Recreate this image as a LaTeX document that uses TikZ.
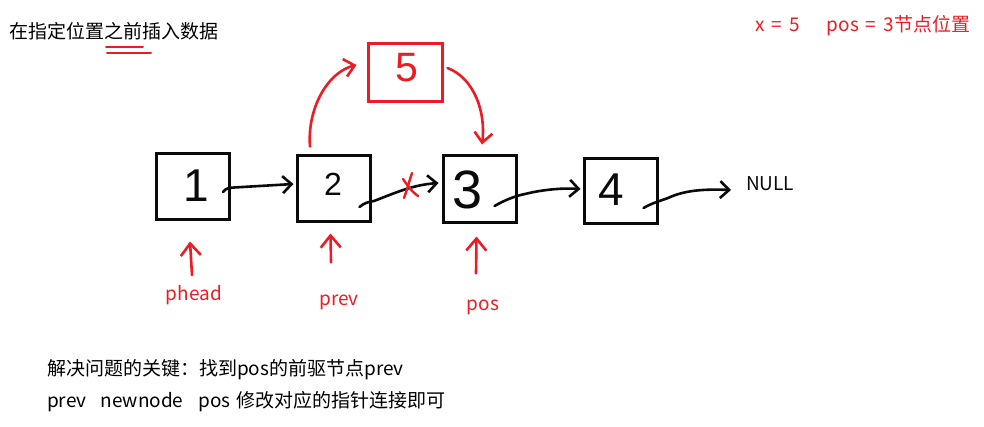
\documentclass[tikz,border=0pt]{standalone}
\usepackage{fontspec}
\setmainfont{Noto Sans CJK SC}
\newfontfamily\digitfont{Liberation Sans}
\usetikzlibrary{arrows.meta,calc}
\definecolor{pred}{RGB}{237,28,36}
\definecolor{ink}{RGB}{10,10,10}
\newcommand{\eqsp}{\hspace{7pt}=\hspace{7pt}}
\begin{document}
\begin{tikzpicture}[x=1pt,y=-1pt,
  txt/.style={inner sep=0pt,font=\fontsize{19}{23}\selectfont},
  redtxt/.style={txt,text=pred},
  box/.style={draw=ink,line width=3pt,minimum width=73pt,minimum height=66pt,inner sep=0pt},
  redbox/.style={draw=pred,line width=3pt,minimum width=74pt,minimum height=58pt,inner sep=0pt},
  digit/.style={inner sep=0pt,text=ink},
  conn/.style={draw=ink,line width=2.6pt,line cap=round,line join=round,
    -{Straight Barb[length=9pt,width=17pt]}},
  redconn/.style={draw=pred,line width=2.6pt,line cap=round,line join=round,
    -{Straight Barb[length=10pt,width=18pt]}},
  redmark/.style={draw=pred,line width=2.4pt,line cap=round}]
\useasboundingbox[fill=white] (0,0) rectangle (984,426);

% texts
\node[txt,anchor=west] (title) at (9,31) {在指定位置之前插入数据};
\node[redtxt,anchor=west] (given) at (755,26) {x\eqsp 5\hspace{27pt}pos\eqsp 3节点位置};
\node[txt,anchor=west] (key1) at (47,370) {解决问题的关键：找到pos的前驱节点prev};
\node[txt,anchor=west] (key2) at (47,402) {prev\hspace{14pt}newnode\hspace{15pt}pos\hspace{2pt} 修改对应的指针连接即可};

% underline under 之前
\draw[redmark,line width=2pt] (106,47) -- (143,47);
\draw[redmark,line width=2pt] (107,53) -- (151,53);

% boxes
\node[box] (b1) at (193,186) {};
\node[box] (b2) at (333.5,188) {};
\node[box,minimum height=67pt] (b3) at (479.5,188.5) {};
\node[box,minimum height=65pt] (b4) at (620.5,190.5) {};
\node[redbox] (b5) at (405,72) {};

% digits
\node[digit,font=\digitfont\fontsize{46}{46}\selectfont] (d1) at (196,186) {1};
\node[digit,font=\digitfont\fontsize{32}{32}\selectfont] (d2) at (333,184) {2};
\node[digit,font=\digitfont\fontsize{54}{54}\selectfont] (d3) at (468,190) {3};
\node[digit,font=\digitfont\fontsize{46}{46}\selectfont] (d4) at (611,190) {4};
\node[digit,font=\digitfont\fontsize{41}{41}\selectfont,text=pred] (d5) at (407,68) {5};

% NULL
\node[txt,anchor=west,text=ink] (null) at (746,184) {NULL};

% labels
\node[redtxt] (phead) at (194,295) {phead};
\node[redtxt] (prev) at (339,302) {prev};
\node[redtxt] (pos) at (483,307) {pos};

% black connectors
\draw[conn] ($(b1.east)+(-8,6)$) .. controls (226,188) and (229,188) .. (234,187.5)
  -- ($(b2.west)+(-2,-4)$);
\draw[conn] ($(b2.east)+(-12,19)$) .. controls (364,203) and (368,202) .. (374,201)
  .. controls (395,193) and (412,185) .. ($(b3.west)+(-3,-5.5)$);
\draw[conn] ($(b3.east)+(-23,17.5)$) .. controls (505,200) and (515,196) .. (525,194)
  .. controls (545,189) and (565,188) .. ($(b4.west)+(-2,-1.5)$);
\draw[conn] ($(b4.east)+(-15,17.5)$) .. controls (652,203) and (660,201) .. (668,198)
  .. controls (685,190) and (705,189) .. ($(null.west)+(-15,6)$);

% red cross on removed link
\draw[redmark] (403,179) .. controls (408,186) and (412,192) .. (418,196);
\draw[redmark] (412,173) .. controls (409,182) and (407,190) .. (404,198);

% red connectors via new node
\draw[redconn] ($(b2.north)+(-23.5,-7)$) .. controls (307,108) and (328,72) .. ($(b5.west)+(-10,-7)$);
\draw[redconn] ($(b5.east)+(4,-4)$) .. controls (474,78) and (486,112) .. ($(b3.north)+(2.5,-9)$);

% pointer arrows
\draw[redconn,-{Straight Barb[length=12pt,width=20pt]}] ($(phead.north)+(-2,-10)$) -- ($(b1.south)+(-3,21)$);
\draw[redconn,-{Straight Barb[length=12pt,width=20pt]}] ($(prev.north)+(-8,-32)$) -- ($(b2.south)+(-3,11)$);
\draw[redconn,-{Straight Barb[length=12pt,width=20pt]}] ($(pos.north)+(-7,-26)$) -- ($(b3.south)+(-3,13)$);
\end{tikzpicture}
\end{document}
